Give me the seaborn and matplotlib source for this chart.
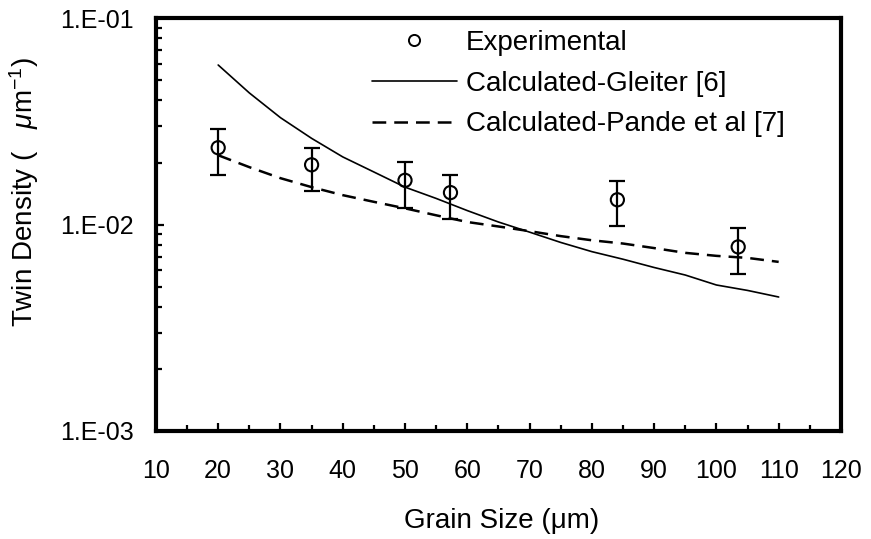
import numpy as np
import pandas as pd
import matplotlib
matplotlib.use("Agg")
import matplotlib.pyplot as plt
import seaborn as sns
from matplotlib.ticker import LogLocator, FixedLocator, MultipleLocator, FuncFormatter
from matplotlib.lines import Line2D

# ---- data ----
exp_x = [20, 35, 50, 57.3, 84.1, 103.5]
exp_y = [0.0236, 0.0195, 0.0164, 0.0143, 0.0132, 0.0078]
exp_hi = [0.0290, 0.0236, 0.0202, 0.0174, 0.0163, 0.0096]
exp_lo = [0.0174, 0.0145, 0.0121, 0.0106, 0.0098, 0.00575]

calc_x = [20, 25, 30, 35, 40, 45, 50, 55, 60, 65, 70, 75, 80, 85, 90, 95, 100, 105, 110]
gleiter_y = [0.0594, 0.0435, 0.0330, 0.0262, 0.0213, 0.0180, 0.0152, 0.0134, 0.0117, 0.0103,
             0.0092, 0.0082, 0.0074, 0.0068, 0.0062, 0.0057, 0.0051, 0.0048, 0.00446]
pande_y = [0.0217, 0.0190, 0.0168, 0.0152, 0.0139, 0.0129, 0.0120, 0.0111, 0.0103, 0.0098,
           0.0093, 0.0088, 0.0084, 0.0081, 0.0077, 0.0073, 0.00706, 0.0069, 0.0066]

y_ticks = [1e-3, 1e-2, 1e-1]
y_tick_labels = ["1.E-03", "1.E-02", "1.E-01"]
x_ticks = [10, 20, 30, 40, 50, 60, 70, 80, 90, 100, 110, 120]
legend_labels = ["Experimental", "Calculated-Gleiter [6]", "Calculated-Pande et al [7]"]

sns.set_style("ticks")
plt.rcParams['font.family'] = ['Liberation Sans', 'DejaVu Sans']
plt.rcParams['mathtext.fontset'] = 'custom'
plt.rcParams['mathtext.it'] = 'Liberation Sans:italic'
plt.rcParams['mathtext.rm'] = 'Liberation Sans'
plt.rcParams['text.color'] = 'black'
plt.rcParams['axes.labelcolor'] = 'black'
plt.rcParams['xtick.color'] = 'black'
plt.rcParams['ytick.color'] = 'black'

fig = plt.figure(figsize=(8.71, 5.39), dpi=100)
ax = fig.add_axes([0.179, 0.2004, 0.7865, 0.7656])

df_calc = pd.DataFrame({"x": calc_x, "g": gleiter_y, "p": pande_y})
df_exp = pd.DataFrame({"x": exp_x, "y": exp_y})

sns.lineplot(data=df_calc, x="x", y="g", ax=ax, color="black", lw=1.2, legend=False)
sns.lineplot(data=df_calc, x="x", y="p", ax=ax, color="black", lw=1.8,
             linestyle=(0, (5.5, 3.2)), legend=False)

yerr = [np.array(exp_y) - np.array(exp_lo), np.array(exp_hi) - np.array(exp_y)]
ax.errorbar(exp_x, exp_y, yerr=yerr, fmt="none", ecolor="black", elinewidth=1.6,
            capsize=6, capthick=1.6, zorder=3)
sns.scatterplot(data=df_exp, x="x", y="y", ax=ax, marker="o", s=90,
                facecolor="none", edgecolor="black", linewidth=1.5, zorder=4, legend=False)

ax.set_yscale("log")
ax.set_ylim(1e-3, 1e-1)
ax.set_xlim(10, 120)
ax.yaxis.set_major_locator(FixedLocator(y_ticks))
ax.set_yticklabels(y_tick_labels)
ax.yaxis.set_minor_locator(LogLocator(base=10, subs=np.arange(2, 10)))
ax.yaxis.set_minor_formatter(FuncFormatter(lambda v, p: ""))
ax.xaxis.set_major_locator(FixedLocator(x_ticks))
ax.xaxis.set_minor_locator(MultipleLocator(5))

for s in ax.spines.values():
    s.set_linewidth(3.0)
    s.set_color("black")
    s.set_visible(True)

ax.tick_params(axis="both", which="major", direction="in", length=6, width=1.6,
               labelsize=18, colors="black")
ax.tick_params(axis="both", which="minor", direction="in", length=4.5, width=1.6)
ax.tick_params(axis="y", which="both", left=True, right=False, pad=16)
ax.tick_params(axis="x", which="both", bottom=True, top=False, pad=20)

ax.set_xlabel("Grain Size (\u03bcm)", fontsize=20)
ax.xaxis.set_label_coords(0.505, -0.218)
ax.xaxis.label.set_va("center")
ax.set_ylabel("Twin Density (   $\\mu$m$^{\\mathregular{-1}}$)", fontsize=20)
ax.yaxis.set_label_coords(-0.193, 0.58)
ax.yaxis.label.set_va("center")

handles = [
    Line2D([], [], marker="o", ls="none", mfc="none", mec="black", ms=8, mew=1.4),
    Line2D([], [], color="black", lw=1.2),
    Line2D([], [], color="black", lw=1.8, ls=(0, (5.5, 3.2))),
]
ax.legend(handles, legend_labels, loc="upper left", bbox_to_anchor=(371.5 / 871, 1 - 30 / 539),
          bbox_transform=fig.transFigure, frameon=False, fontsize=20, handlelength=3.06,
          handletextpad=0.33, labelspacing=0.53, borderaxespad=0, borderpad=0)

fig.savefig("out.png", dpi=100)
